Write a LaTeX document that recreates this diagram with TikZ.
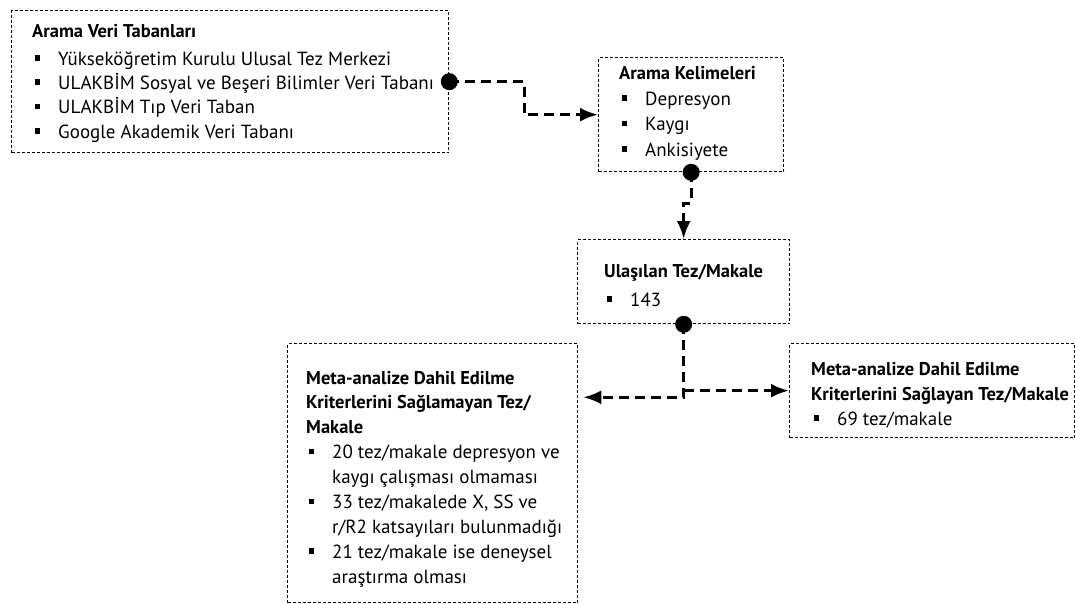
\documentclass[tikz,border=0pt]{standalone}
\usepackage{fontspec}
\setmainfont{PT Sans}
\usetikzlibrary{arrows.meta,calc}
\newcommand{\bitem}[1]{\hspace*{2.5pt}\raisebox{4.5pt}{\rule{5.5pt}{5.5pt}}\hspace*{18pt}#1}
\newcommand{\bcont}[1]{\hspace*{26pt}#1}
\newcommand{\hd}[1]{{\fontsize{18.5}{25}\selectfont\textbf{#1}}}
\tikzset{
  box/.style={draw, line width=1.3pt, dash pattern=on 3pt off 2pt, inner sep=0pt, anchor=north west},
  txt/.style={anchor=base west, inner sep=0pt, font=\fontsize{19}{25}\selectfont},
  conn/.style={line width=3pt, dash pattern=on 10pt off 6pt},
  arr/.style={conn, -{Latex[length=18pt,width=14pt]}},
  dot/.style={fill=black}
}
\begin{document}
\begin{tikzpicture}[x=1pt,y=-1pt]
\useasboundingbox (0,0) rectangle (1075,604);
% boxes
\node[box, minimum width=437pt, minimum height=142pt] (b1) at (11,10) {};
\node[box, minimum width=185pt, minimum height=114pt] (b2) at (598,57) {};
\node[box, minimum width=212pt, minimum height=84pt] (b3) at (577,239) {};
\node[box, minimum width=290pt, minimum height=259pt] (b4) at (287,343) {};
\node[box, minimum width=285pt, minimum height=94pt] (b5) at (789,343) {};
% texts
\node[txt] (t1) at (32,37.5) {\parbox[t]{420pt}{\raggedright\fontsize{19}{24.3}\selectfont\hd{Arama Veri Tabanları}\\[3.4pt]
\bitem{Yükseköğretim Kurulu Ulusal Tez Merkezi}\\
\bitem{ULAKBİM Sosyal ve Beşeri Bilimler Veri Tabanı}\\
\bitem{ULAKBİM Tıp Veri Taban}\\
\bitem{Google Akademik Veri Tabanı}}};
\node[txt] (t2) at (619,80) {\parbox[t]{160pt}{\raggedright\fontsize{19}{25.5}\selectfont\hd{Arama Kelimeleri}\\
\bitem{Depresyon}\\
\bitem{Kaygı}\\
\bitem{Ankisiyete}}};
\node[txt] (t3) at (604,277) {\parbox[t]{180pt}{\raggedright\fontsize{19}{25}\selectfont\hd{Ulaşılan Tez/Makale}\\[4pt]
\bitem{143}}};
\node[txt] (t4) at (306,384) {\parbox[t]{270pt}{\raggedright\fontsize{19}{24.9}\selectfont\hd{Meta-analize Dahil Edilme}\\
\hd{Kriterlerini Sağlamayan Tez/}\\
\hd{Makale}\\
\bitem{20 tez/makale depresyon ve}\\
\bcont{kaygı çalışması olmaması}\\
\bitem{33 tez/makalede X, SS ve}\\
\bcont{r/R2 katsayıları bulunmadığı}\\
\bitem{21 tez/makale ise deneysel}\\
\bcont{araştırma olması}}};
\node[txt] (t5) at (811,375) {\parbox[t]{320pt}{\raggedright\fontsize{19}{25}\selectfont\hd{Meta-analize Dahil Edilme}\\
\hd{Kriterlerini Sağlayan Tez/Makale}\\
\bitem{69 tez/makale}}};
% connectors
\draw[arr] (b1.east) -- ++(75,0) |- (b2.west);
\draw[arr] (b2.south) -- ++(0,31) -| (b3.north);
\coordinate (split) at ($(b3.south)+(0,73)$);
\draw[arr] (b3.south) -- (split) -- ([xshift=5pt]b4.east |- split);
\draw[arr] (b3.south |- b5.west) -- (b5.west);
% dots
\fill[dot] (b1.east) circle (8.5pt);
\fill[dot] (b2.south) circle (8.5pt);
\fill[dot] (b3.south) circle (8.5pt);
\end{tikzpicture}
\end{document}
